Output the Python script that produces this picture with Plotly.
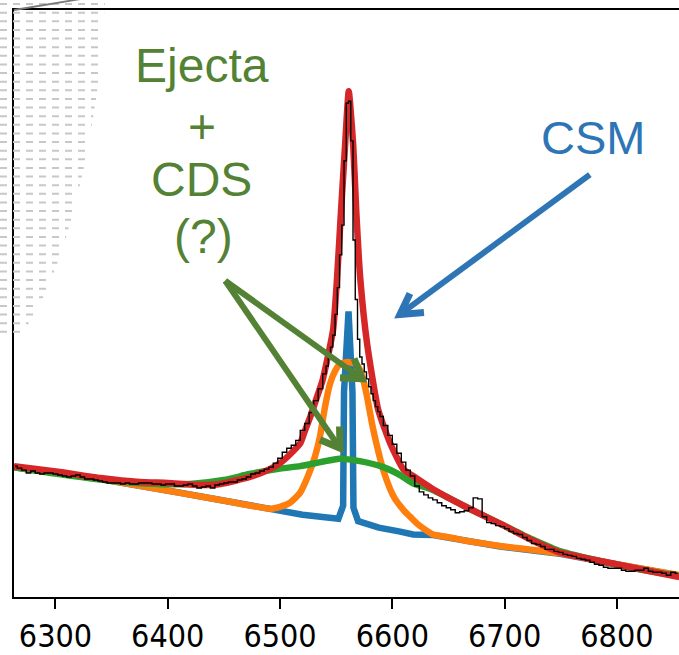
import numpy as np
import plotly.graph_objects as go

# ---------------- data (wavelength in Angstrom, flux in arbitrary units) ----------------
# Observed spectrum (binned)
obs_wave = [
    6264, 6268, 6272, 6276, 6280, 6284, 6288, 6292, 6296, 6300, 6304, 6308, 6312, 6316, 6320,
    6324, 6328, 6332, 6336, 6340, 6344, 6348, 6352, 6356, 6360, 6364, 6368, 6372, 6376, 6380,
    6384, 6388, 6392, 6396, 6400, 6404, 6408, 6412, 6416, 6420, 6424, 6428, 6432, 6436, 6440,
    6444, 6448, 6452, 6456, 6460, 6464, 6468, 6472, 6476, 6480, 6484, 6488, 6492, 6496, 6500,
    6504, 6508, 6512, 6516, 6520, 6524, 6528, 6532, 6536, 6540,
    6542, 6544, 6546, 6548, 6550, 6552, 6554, 6556, 6558, 6560, 6562, 6564, 6566, 6568, 6570,
    6572, 6574, 6576, 6578, 6580, 6582, 6584, 6586, 6588, 6590,
    6594, 6598, 6602, 6606, 6610, 6614, 6618, 6622, 6626, 6630, 6634, 6638, 6642, 6646, 6650,
    6654, 6658, 6662, 6666, 6670, 6674, 6678, 6682, 6686, 6690, 6694, 6698, 6702, 6706, 6710,
    6714, 6718, 6722, 6726, 6730, 6734, 6738, 6742, 6746, 6750, 6754, 6758, 6762, 6766, 6770,
    6774, 6778, 6782, 6786, 6790, 6794, 6798, 6802, 6806, 6810, 6814, 6818, 6822, 6826, 6830,
    6834, 6838, 6842, 6846, 6850, 6854,
]
obs_flux = [
    1.32, 1.30, 1.28, 1.25, 1.27, 1.25, 1.24, 1.25, 1.25, 1.24, 1.23, 1.22, 1.21, 1.22, 1.23,
    1.21, 1.19, 1.19, 1.18, 1.17, 1.16, 1.15, 1.15, 1.15, 1.14, 1.15, 1.14, 1.14, 1.15, 1.15,
    1.15, 1.14, 1.14, 1.13, 1.14, 1.14, 1.12, 1.12, 1.13, 1.14, 1.12, 1.10, 1.11, 1.12, 1.10,
    1.13, 1.14, 1.15, 1.16, 1.16, 1.18, 1.19, 1.21, 1.24, 1.25, 1.27, 1.29, 1.31, 1.35, 1.40,
    1.46, 1.50, 1.53, 1.58, 1.68, 1.75, 1.86, 1.98, 2.10, 2.25,
    2.33, 2.42, 2.52, 2.64, 2.85, 3.12, 3.45, 3.75, 4.40, 4.98, 5.00, 4.60, 3.60, 3.00, 2.60,
    2.42, 2.35, 2.27, 2.20, 2.12, 2.05, 1.98, 1.92, 1.87, 1.82,
    1.73, 1.63, 1.54, 1.45, 1.36, 1.28, 1.22, 1.12, 1.06, 1.03, 1.00, 0.98, 0.95, 0.92, 0.90,
    0.88, 0.85, 0.86, 0.87, 0.90, 1.00, 0.99, 0.81, 0.75, 0.74, 0.72, 0.71, 0.69, 0.66, 0.64,
    0.63, 0.60, 0.57, 0.54, 0.53, 0.51, 0.48, 0.48, 0.46, 0.45, 0.43, 0.42, 0.41, 0.39, 0.38,
    0.37, 0.35, 0.33, 0.32, 0.30, 0.29, 0.29, 0.29, 0.27, 0.26, 0.26, 0.27, 0.27, 0.29, 0.26,
    0.25, 0.25, 0.24, 0.22, 0.25, 0.24,
]

# Narrow (CSM) component on top of the continuum
csm_wave = [6263.1, 6339.8, 6411.0, 6455.5, 6491.1, 6520.0, 6552.0, 6556.2, 6557.0, 6561.0,
            6564.5, 6565.4, 6569.5, 6588.0, 6607.0, 6618.5, 6636.3, 6651.4, 6667.0, 6696.0,
            6749.4, 6796.6, 6855.6]
csm_flux = [1.31, 1.19, 1.052, 0.962, 0.887, 0.83, 0.79, 0.92, 2.07, 2.88,
            2.07, 0.90, 0.765, 0.70, 0.66, 0.63, 0.625, 0.595, 0.56, 0.51,
            0.435, 0.33, 0.215]

# Intermediate-width component on top of the continuum
mid_wave = [6263.1, 6339.8, 6411.0, 6455.5, 6491.1, 6500.0, 6508.9, 6517.8, 6524.9, 6531.2,
            6535.6, 6540.1, 6544.5, 6549.0, 6553.4, 6560.5, 6567.7, 6571.2, 6574.8, 6577.5,
            6581.9, 6586.4, 6591.7, 6598.0, 6602.4, 6606.9, 6611.3, 6615.8, 6622.0, 6629.2,
            6636.3, 6651.4, 6667.0, 6696.0, 6749.4, 6796.6, 6855.6]
mid_flux = [1.31, 1.19, 1.05, 0.96, 0.89, 0.91, 0.95, 1.05, 1.22, 1.42,
            1.62, 1.92, 2.15, 2.28, 2.35, 2.37, 2.35, 2.29, 2.16, 2.02,
            1.75, 1.52, 1.29, 1.09, 0.99, 0.92, 0.86, 0.81, 0.74, 0.68,
            0.63, 0.60, 0.565, 0.515, 0.44, 0.335, 0.22]

# Broad (ejecta + CDS) component on top of the continuum
broad_wave = [6263.1, 6300, 6340, 6380, 6420, 6450, 6473, 6500, 6518, 6536, 6553, 6571,
              6592, 6607, 6618, 6636, 6667, 6696, 6725, 6750, 6790, 6820, 6855.6]
broad_flux = [1.31, 1.245, 1.185, 1.145, 1.14, 1.18, 1.24, 1.295, 1.32, 1.36, 1.395, 1.37,
              1.31, 1.23, 1.15, 1.08, 0.90, 0.74, 0.58, 0.46, 0.35, 0.28, 0.21]

# Total model
total_wave = [6263.1, 6304, 6340, 6375, 6400, 6429, 6447, 6473, 6491, 6500, 6509, 6518,
              6522, 6527, 6533, 6538, 6547.2, 6550.8, 6554.3, 6557.9, 6561.2, 6565.2, 6567.9,
              6571.4, 6577.6, 6587.4, 6598.1, 6609.7, 6618.5, 6636, 6667, 6696, 6725, 6749,
              6791, 6821, 6855.6]
total_flux = [1.32, 1.26, 1.20, 1.16, 1.15, 1.13, 1.14, 1.21, 1.29, 1.35, 1.44, 1.55,
              1.67, 1.82, 2.02, 2.19, 2.69, 3.22, 3.89, 4.55, 5.10, 4.55, 3.89,
              3.22, 2.55, 1.89, 1.55, 1.29, 1.22, 1.09, 0.90, 0.74, 0.57, 0.45,
              0.35, 0.28, 0.20]

x_ticks = [6300, 6400, 6500, 6600, 6700, 6800]

# ---------------- figure ----------------
W, H = 679, 655
M_L, M_R, M_T, M_B = 14, 0, 10, 53
X_RANGE = [6263.1, 6855.3]
Y_RANGE = [0.0, 5.92]
LW = 6.5

fig = go.Figure()

fig.add_trace(go.Scatter(x=csm_wave, y=csm_flux, mode="lines",
                         line=dict(color="#1f77b4", width=LW), hoverinfo="skip"))
fig.add_trace(go.Scatter(x=mid_wave, y=mid_flux, mode="lines",
                         line=dict(color="#ff7f0e", width=LW, shape="spline", smoothing=0.5),
                         hoverinfo="skip"))
fig.add_trace(go.Scatter(x=broad_wave, y=broad_flux, mode="lines",
                         line=dict(color="#2ca02c", width=LW, shape="spline", smoothing=0.7),
                         hoverinfo="skip"))
fig.add_trace(go.Scatter(x=total_wave, y=total_flux, mode="lines",
                         line=dict(color="#d62728", width=LW, shape="spline", smoothing=0.5),
                         hoverinfo="skip"))
fig.add_trace(go.Scatter(x=obs_wave, y=obs_flux, mode="lines",
                         line=dict(color="black", width=1.4, shape="hvh"),
                         hoverinfo="skip"))

# ---------------- labels ----------------
GREEN = "rgb(84,130,53)"
BLUE = "rgb(46,117,182)"
LABEL_FONT = "Liberation Sans, Arial, sans-serif"

for txt, xx, yy in [("Ejecta", 6430.1, 5.365), ("+", 6430.1, 4.75),
                    ("CDS", 6430.1, 4.215), ("(?)", 6431.9, 3.64)]:
    fig.add_annotation(x=xx, y=yy, text=txt, showarrow=False, xanchor="center",
                       yanchor="middle", font=dict(family=LABEL_FONT, size=48, color=GREEN))
fig.add_annotation(x=6779.0, y=4.63, text="CSM", showarrow=False, xanchor="center",
                   yanchor="middle", font=dict(family=LABEL_FONT, size=47, color=BLUE))


def arrow(x0, y0, x1, y1, a1, a2, color):
    """Shaft from (x0, y0) to the tip (x1, y1) with an open V head through a1, a2."""
    fig.add_shape(type="path", xref="x", yref="y",
                  path=f"M {x0},{y0} L {x1},{y1}",
                  line=dict(color=color, width=6))
    fig.add_shape(type="path", xref="x", yref="y",
                  path=f"M {a1[0]},{a1[1]} L {x1},{y1} L {a2[0]},{a2[1]}",
                  line=dict(color=color, width=7))


arrow(6775.9, 4.26, 6606.8, 2.85, (6615.7, 3.06), (6628.2, 2.87), BLUE)
arrow(6451.2, 3.19, 6573.0, 2.20, (6553.4, 2.21), (6565.9, 2.405), GREEN)
arrow(6451.2, 3.19, 6553.4, 1.50, (6535.6, 1.585), (6553.0, 1.72), GREEN)

# ---------------- zoom-inset decorations at the top-left corner ----------------
PW, PH = W - M_L - M_R, H - M_T - M_B


def paper(px, py):
    return (px - M_L) / PW, 1 - (py - M_T) / PH


edge_y = [0, 50, 100, 150, 200, 250, 290, 320, 340]
edge_x = [105, 102, 96, 88, 77, 63, 48, 33, 18]
for py in np.arange(4, 340, 8.7):
    xr = float(np.interp(py, edge_y, edge_x))
    xa, ya = paper(0, py)
    xb, _ = paper(xr, py)
    fig.add_shape(type="line", xref="paper", yref="paper", x0=xa, y0=ya, x1=xb, y1=ya,
                  line=dict(color="rgb(200,200,200)", width=2, dash="7px,6px"),
                  layer="above")

xa, ya = paper(14, 10)
xb, yb = paper(110, -6)
fig.add_shape(type="line", xref="paper", yref="paper", x0=xa, y0=ya, x1=xb, y1=yb,
              line=dict(color="rgb(120,120,120)", width=1.8), layer="above")

# ---------------- axes ----------------
fig.update_xaxes(range=X_RANGE, tickvals=x_ticks, ticktext=[str(v) for v in x_ticks],
                 ticks="outside", ticklen=10, tickwidth=2, tickcolor="black",
                 showline=True, linewidth=2, linecolor="black", mirror=True,
                 showgrid=False, zeroline=False,
                 tickfont=dict(family="DejaVu Sans Condensed, DejaVu Sans", size=32,
                               color="black"))
fig.update_yaxes(range=Y_RANGE, showticklabels=False, ticks="", showline=True,
                 linewidth=2, linecolor="black", mirror=False, showgrid=False,
                 zeroline=False)

fig.update_layout(width=W, height=H, margin=dict(l=M_L, r=M_R, t=M_T, b=M_B),
                  plot_bgcolor="white", paper_bgcolor="white", showlegend=False)

fig.write_html("out.html")
